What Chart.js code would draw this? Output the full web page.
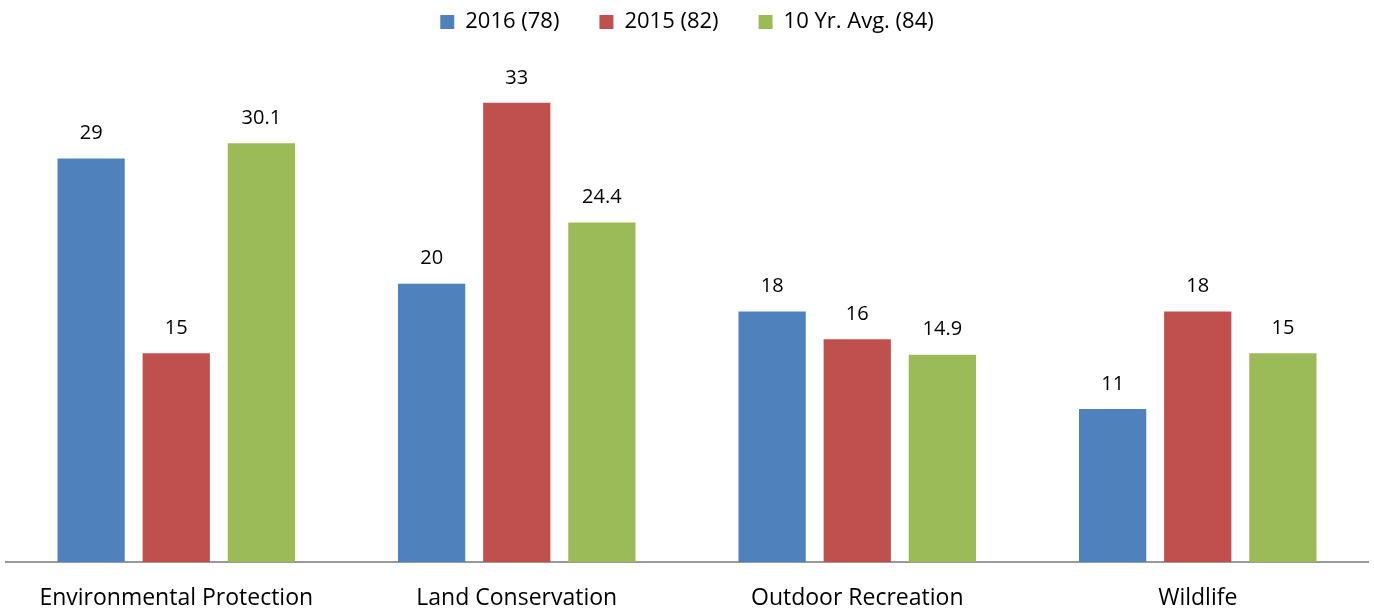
<!DOCTYPE html>
<html lang="en">
<head>
    <meta charset="UTF-8">
    <title>Bar chart</title>
    <script src="https://cdn.jsdelivr.net/npm/chart.js"></script>
    <style>
        html, body { margin: 0; padding: 0; background: #fff; }
        .chart-container { position: relative; width: 1374px; height: 612px; }
    </style>
</head>
<body>
    <div class="chart-container">
        <canvas id="barChart"></canvas>
    </div>
    <script>
        const categories = ['Environmental Protection', 'Land Conservation', 'Outdoor Recreation', 'Wildlife'];
        const seriesNames = ['2016 (78)', '2015 (82)', '10 Yr. Avg. (84)'];
        const values2016 = [29, 20, 18, 11];
        const values2015 = [15, 33, 16, 18];
        const valuesAvg = [30.1, 24.4, 14.9, 15];

        const fontFamily = "'Open Sans', 'Liberation Sans', sans-serif";

        // draw value labels above each bar
        const valueLabels = {
            id: 'valueLabels',
            afterDatasetsDraw(chart) {
                const ctx = chart.ctx;
                ctx.save();
                ctx.font = '20px ' + fontFamily;
                ctx.fillStyle = '#000';
                ctx.textAlign = 'center';
                ctx.textBaseline = 'bottom';
                chart.data.datasets.forEach((ds, i) => {
                    chart.getDatasetMeta(i).data.forEach((bar, j) => {
                        ctx.fillText(String(ds.data[j]), bar.x, bar.y - 15);
                    });
                });
                ctx.restore();
            }
        };

        new Chart(document.getElementById('barChart'), {
            type: 'bar',
            data: {
                labels: categories,
                datasets: [
                    { label: seriesNames[0], data: values2016, backgroundColor: '#4F81BD' },
                    { label: seriesNames[1], data: values2015, backgroundColor: '#C0504D' },
                    { label: seriesNames[2], data: valuesAvg, backgroundColor: '#9BBB59' }
                ]
            },
            options: {
                responsive: true,
                maintainAspectRatio: false,
                animation: false,
                datasets: {
                    bar: { categoryPercentage: 0.75, barPercentage: 0.79 }
                },
                layout: { padding: { left: 6, right: 6, top: -29, bottom: 0 } },
                plugins: {
                    legend: {
                        position: 'top',
                        labels: {
                            boxWidth: 14,
                            boxHeight: 14,
                            color: '#000',
                            font: { size: 22, family: fontFamily },
                            padding: 40
                        }
                    },
                    tooltip: { enabled: false }
                },
                scales: {
                    y: {
                        display: false,
                        min: 0,
                        max: 37.3
                    },
                    x: {
                        grid: { display: false, drawTicks: false },
                        border: { color: '#999', width: 2 },
                        ticks: {
                            color: '#000',
                            font: { size: 23, family: fontFamily },
                            padding: 23,
                            maxRotation: 0
                        },
                        afterFit(scale) {
                            scale.height = 50;
                        }
                    }
                }
            },
            plugins: [valueLabels]
        });
    </script>
</body>
</html>
